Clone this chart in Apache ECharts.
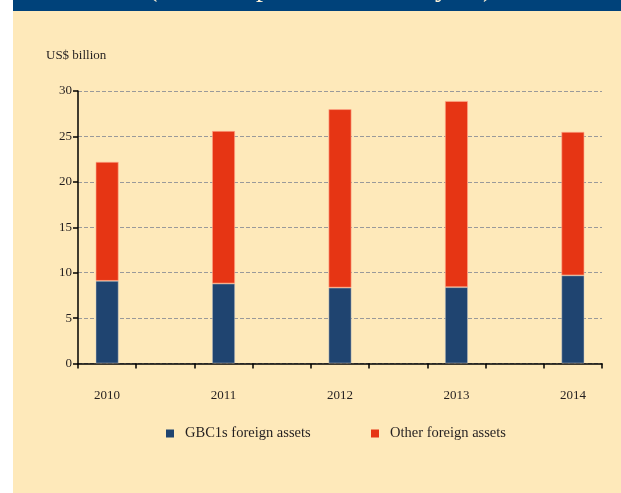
<!DOCTYPE html>
<html>
<head>
<meta charset="utf-8">
<script src="https://cdn.jsdelivr.net/npm/echarts@6/dist/echarts.min.js"></script>
<style>
html,body{margin:0;padding:0;background:#ffffff;}
#c{width:621px;height:493px;}
</style>
</head>
<body>
<div id="c"></div>
<script>
var years = ['2010', '2011', '2012', '2013', '2014'];
var gbcAssets = [9.1, 8.8, 8.35, 8.4, 9.7];
var otherAssets = [13.1, 16.8, 19.65, 20.5, 15.8];
var seriesNames = ['GBC1s foreign assets', 'Other foreign assets'];
var unitLabel = 'US$ billion';
var bannerText = '(US$ bn, per end of each year)';

// categories with spacer slots between the years
var cats = [], gbcData = [], otherData = [];
years.forEach(function (y, i) {
  if (i > 0) { cats.push(''); gbcData.push('-'); otherData.push('-'); }
  cats.push(y); gbcData.push(gbcAssets[i]); otherData.push(otherAssets[i]);
});

var FONT = '"Liberation Serif", "Times New Roman", serif';
var TXT = '#231f20';

var chart = echarts.init(document.getElementById('c'), null, {renderer: 'canvas'});
chart.setOption({
  animation: false,
  backgroundColor: '#ffffff',
  graphic: [
    {type: 'rect', left: 13, top: 0, z: -10, shape: {width: 608, height: 493}, style: {fill: '#fee9ba'}},
    {type: 'rect', left: 13, top: 0, z: -9, shape: {width: 608, height: 11}, style: {fill: '#00427a'}},
    {type: 'text', x: 148, y: -25, z: -8, style: {text: bannerText, font: '28px ' + FONT, fill: '#fff3d6'}},
    {type: 'text', left: 46, top: 49, style: {text: unitLabel, font: '13px ' + FONT, fill: TXT}}
  ],
  grid: {left: 78, right: 19, top: 91, bottom: 129.5, containLabel: false},
  legend: [
    {data: [seriesNames[0]], left: 166, top: 426, padding: 0, itemWidth: 8, itemHeight: 8, icon: 'rect',
     itemStyle: {borderWidth: 0},
     textStyle: {fontFamily: FONT, fontSize: 14.5, color: TXT, padding: [0, 0, 0, 6]}},
    {data: [seriesNames[1]], left: 371, top: 426, padding: 0, itemWidth: 8, itemHeight: 8, icon: 'rect',
     itemStyle: {borderWidth: 0},
     textStyle: {fontFamily: FONT, fontSize: 14.5, color: TXT, padding: [0, 0, 0, 6]}}
  ],
  xAxis: {
    type: 'category',
    data: cats,
    boundaryGap: true,
    axisLine: {lineStyle: {color: '#000', width: 1.5}},
    axisTick: {show: true, interval: 0, length: 5, lineStyle: {color: '#000', width: 1.5}},
    axisLabel: {interval: 0, margin: 26, fontFamily: FONT, fontSize: 13, color: TXT},
    splitLine: {show: false}
  },
  yAxis: {
    type: 'value',
    min: 0, max: 30, interval: 5,
    axisLine: {show: true, lineStyle: {color: '#000', width: 1.5}},
    axisTick: {show: true, length: 5, lineStyle: {color: '#000', width: 1.5}},
    axisLabel: {margin: 6, fontFamily: FONT, fontSize: 13, color: TXT},
    splitLine: {show: true, lineStyle: {color: '#9a9a9a', width: 1, type: [4, 2]}}
  },
  series: [
    {name: seriesNames[0], type: 'bar', stack: 'a', barWidth: 23, data: gbcData,
     itemStyle: {color: '#1f4470', borderColor: 'rgba(200,200,200,0.6)', borderWidth: 0.8}},
    {name: seriesNames[1], type: 'bar', stack: 'a', barWidth: 23, data: otherData,
     itemStyle: {color: '#e63514', borderColor: 'rgba(255,170,140,0.8)', borderWidth: 0.8}}
  ]
});
</script>
</body>
</html>
